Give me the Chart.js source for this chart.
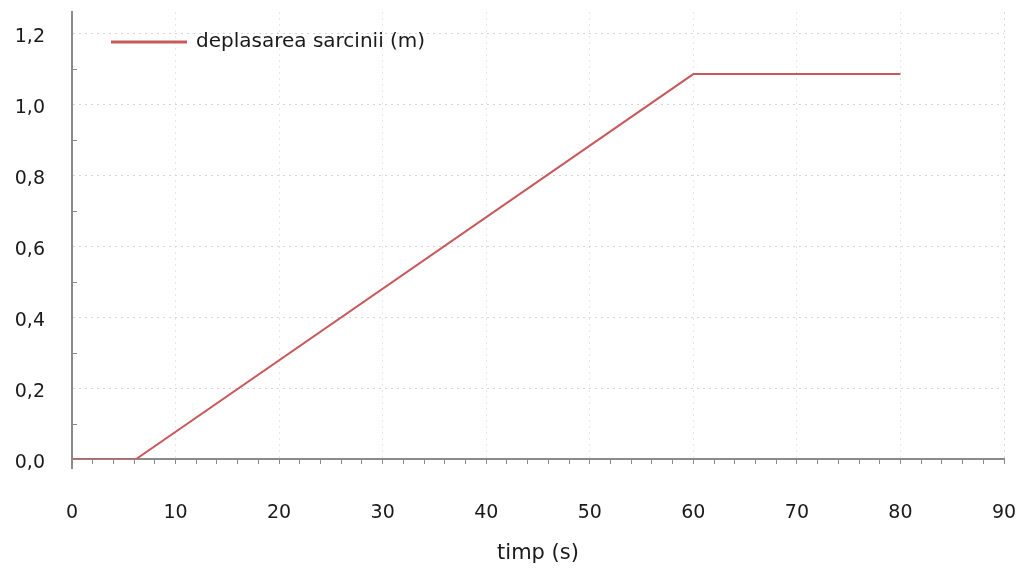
<!DOCTYPE html>
<html lang="ro">
<head>
  <meta charset="UTF-8" />
  <title>deplasarea sarcinii</title>
  <script src="https://cdn.jsdelivr.net/npm/chart.js"></script>
  <style>
    html, body { margin: 0; padding: 0; background: #fff; }
    #wrap { width: 1022px; height: 571px; }
  </style>
</head>
<body>
  <div id="wrap"><canvas id="chart"></canvas></div>

  <script>
    // date
    const timp = [0, 6.2, 60, 80];
    const deplasare = [0, 0, 1.085, 1.085];
    const seriesLabel = "deplasarea sarcinii (m)";
    const xTitle = "timp (s)";
    const xMax = 90;
    const yMax = 1.26;

    const fmt = v => v.toFixed(1).replace(".", ",");

    // mici liniute pe axa Y (la 0,1 0,3 ...) si prelungirea axei Y sub axa X
    const extras = {
      id: "extras",
      afterLayout(chart) {
        chart.legend.left = chart.chartArea.left + 20;
        chart.legend.top = chart.chartArea.top;
      },
      afterDraw(chart) {
        const { ctx, scales: { x, y } } = chart;
        ctx.save();
        ctx.strokeStyle = "#8a8a8a";
        ctx.lineWidth = 1;
        for (let v = 0.1; v < yMax; v += 0.2) {
          const py = Math.round(y.getPixelForValue(v)) + 0.5;
          ctx.beginPath();
          ctx.moveTo(x.left, py);
          ctx.lineTo(x.left + 5, py);
          ctx.stroke();
        }
        ctx.lineWidth = 2;
        ctx.beginPath();
        ctx.moveTo(x.left, y.bottom);
        ctx.lineTo(x.left, y.bottom + 10);
        ctx.stroke();
        ctx.restore();
      }
    };

    new Chart(document.getElementById("chart"), {
      type: "line",
      data: {
        datasets: [{
          label: seriesLabel,
          data: timp.map((t, i) => ({ x: t, y: deplasare[i] })),
          borderColor: "#c85a5c",
          backgroundColor: "#b8404a",
          borderWidth: 2,
          pointRadius: 0,
          tension: 0
        }]
      },
      options: {
        responsive: true,
        maintainAspectRatio: false,
        animation: false,
        layout: { padding: { top: 12, right: 18, left: 0, bottom: 0 } },
        plugins: {
          legend: {
            position: "chartArea",
            align: "start",
            labels: {
              boxWidth: 74,
              boxHeight: 1,
              padding: 20,
              color: "#1a1a1a",
              font: { family: "DejaVu Sans", size: 20 }
            }
          },
          tooltip: { enabled: false }
        },
        scales: {
          x: {
            type: "linear",
            min: 0,
            max: xMax,
            afterFit: s => { s.height = 112; s.paddingLeft = 0; s.paddingRight = 0; },
            border: { color: "#8a8a8a", width: 2, dash: [2, 4] },
            grid: {
              color: c => {
                if (!c.tick || c.tick.value === 0 || c.tick.value % 10 !== 0) return "rgba(0,0,0,0)";
                return c.tick.value === xMax ? "#d9d9d9" : "#e6e6e6";
              },
              tickColor: "#8a8a8a",
              tickLength: 5,
              drawTicks: true
            },
            ticks: {
              stepSize: 2,
              autoSkip: false,
              maxRotation: 0,
              padding: 38,
              color: "#1a1a1a",
              font: { family: "DejaVu Sans", size: 19 },
              callback: v => (v % 10 === 0 ? String(v) : "")
            },
            title: {
              display: true,
              text: xTitle,
              color: "#1a1a1a",
              font: { family: "DejaVu Sans", size: 21 },
              padding: { top: 0, bottom: 5 }
            }
          },
          y: {
            min: 0,
            max: yMax,
            afterFit: s => { s.width = 72; s.paddingTop = 0; s.paddingBottom = 0; },
            border: { color: "#8a8a8a", width: 2, dash: [2, 4] },
            grid: {
              color: c => (c.tick && c.tick.value !== 0) ? "#d6d6d6" : "rgba(0,0,0,0)",
              drawTicks: false
            },
            ticks: {
              stepSize: 0.2,
              includeBounds: false,
              padding: 27,
              labelOffset: 4,
              color: "#1a1a1a",
              font: { family: "DejaVu Sans", size: 19 },
              callback: v => fmt(v)
            }
          }
        }
      },
      plugins: [extras]
    });
  </script>
</body>
</html>
